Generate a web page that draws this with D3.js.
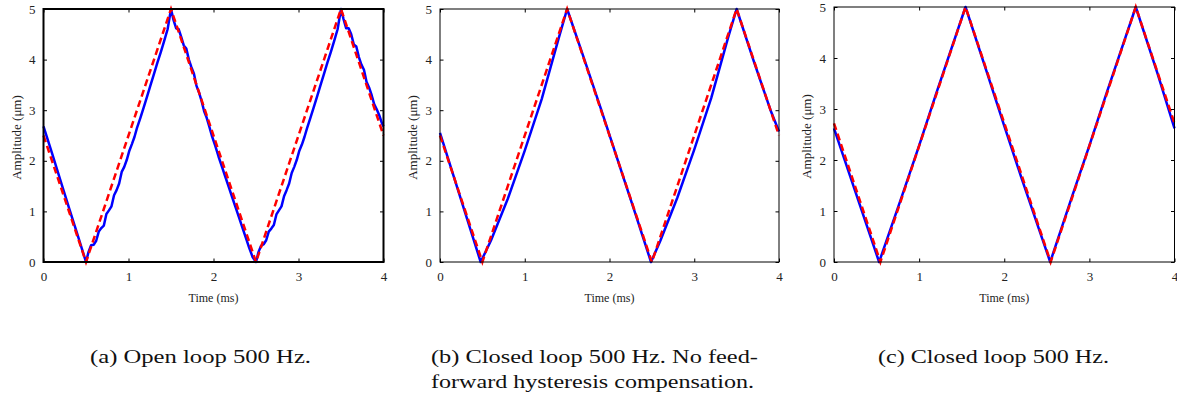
<!DOCTYPE html>
<meta charset="utf-8">
<script src="https://d3js.org/d3.v7.min.js"></script>
<style>
  body { margin: 0; background: #fff; }
  text { font-family: "Liberation Serif", "Times New Roman", Times, serif; }
</style>
<div id="chart"></div>
<script>
// tick labels
var xTicks = [0, 1, 2, 3, 4];
var yTicks = [0, 1, 2, 3, 4, 5];

// (a) open loop: measured (blue) and reference (red dashed)
var tA = [0, 0.1, 0.2, 0.3, 0.4, 0.5,
  0.53, 0.56, 0.59, 0.62, 0.65, 0.68, 0.71, 0.74, 0.77, 0.8, 0.83, 0.86, 0.89, 0.92, 0.95, 0.98,
  1.01, 1.04, 1.07, 1.1, 1.14, 1.18, 1.22, 1.26, 1.3, 1.34, 1.38, 1.42, 1.46, 1.5,
  1.53, 1.56, 1.59, 1.62, 1.65, 1.68, 1.71, 1.74, 1.77, 1.8, 1.83, 1.86, 1.89, 1.92, 1.95, 1.98,
  2.02, 2.06, 2.1, 2.14, 2.18, 2.22, 2.26, 2.3, 2.34, 2.38, 2.42, 2.46, 2.5,
  2.53, 2.56, 2.59, 2.62, 2.65, 2.68, 2.71, 2.74, 2.77, 2.8, 2.83, 2.86, 2.89, 2.92, 2.95, 2.98,
  3.01, 3.04, 3.07, 3.1, 3.14, 3.18, 3.22, 3.26, 3.3, 3.34, 3.38, 3.42, 3.46, 3.5,
  3.53, 3.56, 3.59, 3.62, 3.65, 3.68, 3.71, 3.74, 3.77, 3.8, 3.83, 3.86, 3.89, 3.92, 3.95, 3.98, 4.0];
var blueA = [2.68, 2.15, 1.61, 1.07, 0.54, 0.0,
  0.2, 0.33, 0.34, 0.42, 0.6, 0.67, 0.72, 0.95, 1.02, 1.1, 1.32, 1.42, 1.55, 1.78, 1.88, 2.02,
  2.2, 2.33, 2.47, 2.65, 2.85, 3.06, 3.28, 3.5, 3.72, 3.94, 4.15, 4.37, 4.6, 5.0,
  4.78, 4.62, 4.6, 4.45, 4.28, 4.22, 4.0, 3.85, 3.72, 3.48, 3.35, 3.18, 2.98, 2.85, 2.68, 2.5,
  2.3, 2.08, 1.88, 1.68, 1.48, 1.28, 1.08, 0.88, 0.68, 0.48, 0.28, 0.1, 0.0,
  0.2, 0.32, 0.35, 0.43, 0.6, 0.66, 0.73, 0.94, 1.02, 1.1, 1.3, 1.42, 1.55, 1.76, 1.88, 2.02,
  2.2, 2.32, 2.47, 2.64, 2.85, 3.06, 3.28, 3.5, 3.72, 3.94, 4.15, 4.37, 4.6, 5.0,
  4.8, 4.62, 4.62, 4.5, 4.3, 4.26, 4.05, 3.9, 3.8, 3.56, 3.45, 3.3, 3.12, 3.02, 2.9, 2.75, 2.68];
var tRefA = [0, 0.5, 1.5, 2.5, 3.5, 4];
var redA = [2.5, 0, 5, 0, 5, 2.5];

// (b) closed loop, no feed-forward compensation
var tB = [0, 0.48, 0.6, 0.8, 1.0, 1.2, 1.4, 1.5, 1.7, 1.9, 2.1, 2.3, 2.49,
  2.6, 2.8, 3.0, 3.2, 3.4, 3.5, 3.7, 3.9, 4.0];
var blueB = [2.55, 0, 0.42, 1.25, 2.2, 3.22, 4.42, 5.0, 4.02, 3.02, 2.0, 0.98, 0,
  0.42, 1.27, 2.22, 3.24, 4.44, 5.0, 3.98, 3.0, 2.58];
var tRefB = [0, 0.5, 1.5, 2.5, 3.5, 4];
var redB = [2.5, 0, 5, 0, 5, 2.5];

// (c) closed loop
var tC = [0, 0.53, 0.8, 1.0, 1.2, 1.545, 1.8, 2.0, 2.2, 2.54, 2.8, 3.0, 3.2, 3.545, 3.8, 4.0];
var blueC = [2.62, 0, 1.3, 2.28, 3.3, 5.0, 3.7, 2.67, 1.66, 0, 1.3, 2.28, 3.3, 5.0, 3.7, 2.62];
var tRefC = [0, 0.545, 1.545, 2.545, 3.545, 4];
var redC = [2.72, 0, 5, 0, 5, 2.72];

var captions = [
  ["(a) Open loop 500 Hz."],
  ["(b) Closed loop 500 Hz. No feed-", "forward hysteresis compensation."],
  ["(c) Closed loop 500 Hz."]
];

var width = 1177, height = 398;
var svg = d3.select("#chart").append("svg")
  .attr("width", width)
  .attr("height", height);

var panels = [
  { left: 43.5, right: 383.5, top: 9, bottom: 262, frame: 2, t: tA, blue: blueA, tr: tRefA, red: redA,
    cap: captions[0], capX: 90, capW: [221] },
  { left: 440, right: 779, top: 9, bottom: 262, frame: 1, t: tB, blue: blueB, tr: tRefB, red: redB,
    cap: captions[1], capX: 431, capW: [327, 323] },
  { left: 834, right: 1174.5, top: 7, bottom: 262, frame: 1, t: tC, blue: blueC, tr: tRefC, red: redC,
    cap: captions[2], capX: 878, capW: [231] }
];

panels.forEach(function (p) {
  var x = d3.scaleLinear().domain([0, 4]).range([p.left, p.right]);
  var y = d3.scaleLinear().domain([0, 5]).range([p.bottom, p.top]);
  var g = svg.append("g");

  // lines
  var line = d3.line()
    .x(function (d) { return x(d[0]); })
    .y(function (d) { return y(d[1]); });

  g.append("path")
    .datum(p.t.map(function (t, i) { return [t, p.blue[i]]; }))
    .attr("fill", "none")
    .attr("stroke", "#0000ff")
    .attr("stroke-width", 2.5)
    .attr("stroke-linejoin", "round")
    .attr("d", line);

  g.append("path")
    .datum(p.tr.map(function (t, i) { return [t, p.red[i]]; }))
    .attr("fill", "none")
    .attr("stroke", "#ff0000")
    .attr("stroke-width", 2.5)
    .attr("stroke-dasharray", "7,4")
    .attr("d", line);

  // axes, ticks pointing inward on all four sides
  var fmt = d3.format("d");
  var bottomAxis = d3.axisBottom(x).tickValues(xTicks).tickFormat(fmt).tickSize(-3.5).tickSizeOuter(0).tickPadding(10);
  var leftAxis = d3.axisLeft(y).tickValues(yTicks).tickFormat(fmt).tickSize(-3.5).tickSizeOuter(0).tickPadding(8);
  var topAxis = d3.axisTop(x).tickValues(xTicks).tickSize(-3.5).tickSizeOuter(0).tickFormat("");
  var rightAxis = d3.axisRight(y).tickValues(yTicks).tickSize(-3.5).tickSizeOuter(0).tickFormat("");

  [
    [bottomAxis, "translate(0," + p.bottom + ")"],
    [leftAxis, "translate(" + p.left + ",0)"],
    [topAxis, "translate(0," + p.top + ")"],
    [rightAxis, "translate(" + p.right + ",0)"]
  ].forEach(function (a) {
    var ax = g.append("g").attr("transform", a[1]).call(a[0]);
    ax.attr("font-family", null).attr("font-size", null);
    ax.select(".domain").remove();
    ax.selectAll("line").attr("stroke", "#000").attr("stroke-width", 1);
    ax.selectAll("text")
      .attr("fill", "#222")
      .style("font-size", "13px");
  });

  g.append("rect")
    .attr("x", p.left)
    .attr("y", p.top)
    .attr("width", p.right - p.left)
    .attr("height", p.bottom - p.top)
    .attr("fill", "none")
    .attr("stroke", "#000")
    .attr("stroke-width", p.frame);

  // axis labels
  g.append("text")
    .attr("text-anchor", "middle")
    .attr("x", (p.left + p.right) / 2)
    .attr("y", 302)
    .style("font-size", "12px")
    .attr("fill", "#222")
    .text("Time (ms)");

  g.append("text")
    .attr("text-anchor", "middle")
    .attr("transform", "translate(" + (p.left - 23) + "," + ((p.top + p.bottom) / 2 + 2) + ") rotate(-90)")
    .style("font-size", "13px")
    .attr("fill", "#222")
    .text("Amplitude (\u03bcm)");

  // caption
  p.cap.forEach(function (c, i) {
    g.append("text")
      .attr("x", p.capX)
      .attr("y", 363 + i * 25)
      .attr("textLength", p.capW[i])
      .attr("lengthAdjust", "spacingAndGlyphs")
      .style("font-size", "18px")
      .style("font-family", "'Liberation Serif', serif")
      .attr("fill", "#111")
      .text(c);
  });
});
</script>
